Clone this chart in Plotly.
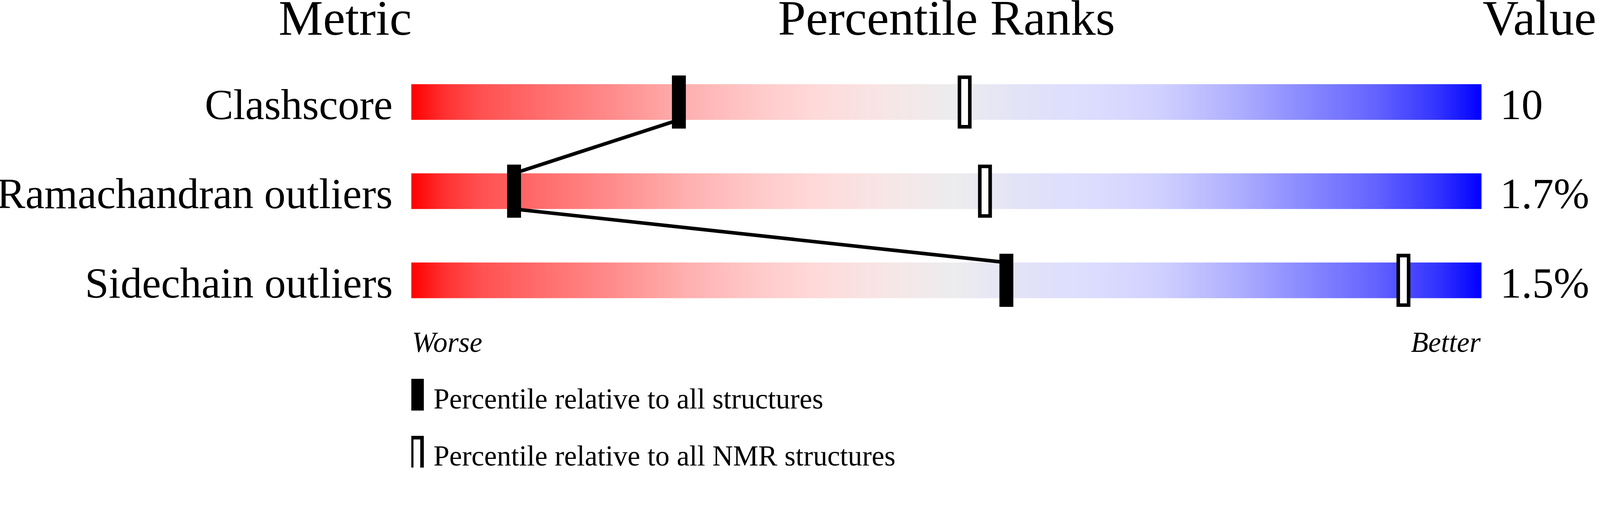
import numpy as np
import plotly.graph_objects as go

# ---------------- data ----------------
metrics = ["Clashscore", "Ramachandran outliers", "Sidechain outliers"]
values = ["10", "1.7%", "1.5%"]
pct_all = [25.0, 9.6, 55.6]      # percentile relative to all structures
pct_nmr = [51.7, 53.6, 92.7]     # percentile relative to all NMR structures
headers = ["Metric", "Percentile Ranks", "Value"]
legend_labels = ["Percentile relative to all structures",
                 "Percentile relative to all NMR structures"]

# ---------------- layout constants ----------------
W, H = 4485, 1311
BAR_L, BAR_R = 1153, 4153
PX_PER_UNIT = (BAR_R - BAR_L) / 100.0
ROW0, ROW_STEP = 286, 250
FONT = "Liberation Serif, Times New Roman, serif"


def dx(px):
    return (px - BAR_L) / PX_PER_UNIT


def dy(py):
    return (py - ROW0) / ROW_STEP


BAR_HALF = 0.2
MARK_HALF_H = 0.298
MARK_HALF_W = 0.65

grad_scale = [
    [0.00, "rgb(255,0,0)"],
    [0.032, "rgb(255,50,50)"],
    [0.064, "rgb(255,80,80)"],
    [0.128, "rgb(255,112,112)"],
    [0.185, "rgb(255,138,138)"],
    [0.256, "rgb(255,175,175)"],
    [0.32, "rgb(255,200,200)"],
    [0.38, "rgb(255,218,218)"],
    [0.45, "rgb(246,231,231)"],
    [0.51, "rgb(236,236,238)"],
    [0.58, "rgb(225,225,250)"],
    [0.64, "rgb(220,220,255)"],
    [0.70, "rgb(208,208,255)"],
    [0.77, "rgb(175,175,255)"],
    [0.83, "rgb(140,140,255)"],
    [0.90, "rgb(100,100,255)"],
    [0.96, "rgb(50,50,255)"],
    [1.00, "rgb(0,0,255)"],
]

fig = go.Figure()

# gradient bars (colour ramp is styling)
N = 600
edges = np.linspace(0, 100, N + 1)
mids = (edges[:-1] + edges[1:]) / 2
for i, m in enumerate(metrics):
    fig.add_trace(go.Heatmap(
        x=edges, y=[i - BAR_HALF, i + BAR_HALF], z=[mids],
        zmin=0, zmax=100, colorscale=grad_scale, showscale=False,
        hoverinfo="skip",
    ))

shapes = []
# connecting line between "all structures" markers
for i in range(len(metrics) - 1):
    shapes.append(dict(type="line", xref="x", yref="y", layer="above",
                       x0=pct_all[i], y0=i + BAR_HALF,
                       x1=pct_all[i + 1], y1=i + 1 - BAR_HALF,
                       line=dict(color="black", width=10)))

BORDER = 10
inset = (BORDER / 2) / PX_PER_UNIT
inset_y = (BORDER / 2) / ROW_STEP
for i in range(len(metrics)):
    p = pct_all[i]
    shapes.append(dict(type="rect", xref="x", yref="y", layer="above",
                       x0=p - MARK_HALF_W, x1=p + MARK_HALF_W,
                       y0=i - MARK_HALF_H, y1=i + MARK_HALF_H,
                       fillcolor="black", line=dict(width=0)))
    q = pct_nmr[i]
    shapes.append(dict(type="rect", xref="x", yref="y", layer="above",
                       x0=q - MARK_HALF_W + inset, x1=q + MARK_HALF_W - inset,
                       y0=i - MARK_HALF_H + inset_y, y1=i + MARK_HALF_H - inset_y,
                       fillcolor="white", line=dict(color="black", width=BORDER)))

# legend swatches
L_x0, L_x1 = dx(1149), dx(1188)
leg_rows = [(dy(1062), dy(1151)), (dy(1222), dy(1311))]
shapes.append(dict(type="rect", xref="x", yref="y", layer="above",
                   x0=L_x0, x1=L_x1, y0=leg_rows[0][0], y1=leg_rows[0][1],
                   fillcolor="black", line=dict(width=0)))
shapes.append(dict(type="rect", xref="x", yref="y", layer="above",
                   x0=L_x0 + inset, x1=L_x1 - inset,
                   y0=leg_rows[1][0] + inset_y, y1=leg_rows[1][1] + 0.05,
                   fillcolor="white", line=dict(color="black", width=BORDER)))

ann = []
# headers
hy = dy(50)
ann.append(dict(x=0, y=hy, text=headers[0], xanchor="right", yanchor="middle",
                xshift=3, font=dict(size=140)))
ann.append(dict(x=50, y=hy, text=headers[1], xanchor="center", yanchor="middle",
                font=dict(size=140)))
ann.append(dict(x=100, y=hy, text=headers[2], xanchor="left", yanchor="middle",
                xshift=1, font=dict(size=140)))
# row labels and values
for i, (m, v) in enumerate(zip(metrics, values)):
    ann.append(dict(x=0, y=i, text=m, xanchor="right", yanchor="middle",
                    xshift=-50, yshift=-7, font=dict(size=120)))
    ann.append(dict(x=100, y=i, text=v, xanchor="left", yanchor="middle",
                    xshift=50, yshift=-7, font=dict(size=120)))
# worse / better
wy = dy(960)
ann.append(dict(x=0, y=wy, text="<i>Worse</i>", xanchor="left", yanchor="middle",
                font=dict(size=80)))
ann.append(dict(x=100, y=wy, text="<i>Better</i>", xanchor="right", yanchor="middle",
                font=dict(size=80)))
# legend texts
for k, lab in enumerate(legend_labels):
    ann.append(dict(x=dx(1213), y=dy(1118 + 160 * k), text=lab, xanchor="left",
                    yanchor="middle", font=dict(size=80)))

for a in ann:
    a.update(xref="x", yref="y", showarrow=False)
    a["font"].update(family=FONT, color="black")

fig.update_layout(
    width=W, height=H, margin=dict(l=0, r=0, t=0, b=0),
    paper_bgcolor="white", plot_bgcolor="white",
    xaxis=dict(domain=[BAR_L / W, BAR_R / W], range=[0, 100], visible=False,
               fixedrange=True),
    yaxis=dict(domain=[0, 1], range=[dy(H), dy(0)], visible=False,
               fixedrange=True),
    shapes=shapes, annotations=ann, showlegend=False,
)

# fit the fixed-size figure exactly into the browser window
post = """
var gd = document.getElementById('{plot_id}');
function fitFig() {
  var s = Math.min(window.innerWidth / %d, window.innerHeight / %d);
  document.documentElement.style.margin = '0';
  document.body.style.margin = '0';
  document.documentElement.style.overflow = 'hidden';
  document.body.style.overflow = 'hidden';
  gd.style.transformOrigin = '0 0';
  gd.style.transform = 'scale(' + s + ')';
}
fitFig();
window.addEventListener('resize', fitFig);
""" % (W, H)

fig.write_html("out.html", config={"displayModeBar": False}, post_script=post)
